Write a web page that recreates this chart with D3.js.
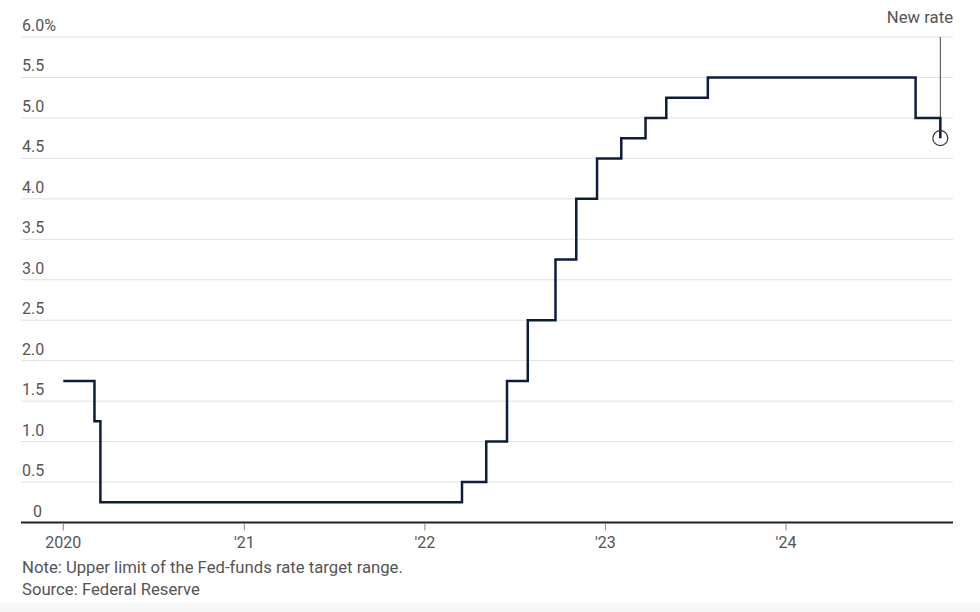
<!DOCTYPE html>
<html lang="en">
<head>
  <meta charset="UTF-8">
  <title>Fed-funds rate</title>
  <style>
    body {
      margin: 0;
      padding: 0;
      background: #fff;
      font-family: 'Roboto', sans-serif;
      overflow: hidden;
    }
    .grid line { stroke: #e0e0e0; stroke-width: 1px; }
    .tick-label { font-size: 16px; fill: #555; }
    .note { font-size: 16.7px; fill: #555; }
    .rate { fill: none; stroke: #0c1c3a; stroke-width: 2.5px; stroke-linejoin: miter; }
  </style>
</head>
<body>
  <div id="chart"></div>

  <script src="https://d3js.org/d3.v7.min.js"></script>
  <script>
    // Upper limit of the target range, effective dates of each change
    const dates = [
      '2020-01-01', '2020-03-04', '2020-03-16', '2022-03-17', '2022-05-05',
      '2022-06-16', '2022-07-28', '2022-09-22', '2022-11-03', '2022-12-15',
      '2023-02-02', '2023-03-23', '2023-05-04', '2023-07-27', '2024-09-19',
      '2024-11-08'
    ];
    const rates = [
      1.75, 1.25, 0.25, 0.50, 1.00,
      1.75, 2.50, 3.25, 4.00, 4.50,
      4.75, 5.00, 5.25, 5.50, 5.00,
      4.75
    ];
    const yTicks = [0, 0.5, 1, 1.5, 2, 2.5, 3, 3.5, 4, 4.5, 5, 5.5, 6];
    const yLabels = ['0', '0.5', '1.0', '1.5', '2.0', '2.5', '3.0', '3.5', '4.0', '4.5', '5.0', '5.5', '6.0%'];
    const xTicks = ['2020-01-01', '2021-01-01', '2022-01-01', '2023-01-01', '2024-01-01'];
    const xLabels = ['2020', "'21", "'22", "'23", "'24"];

    const W = 980, H = 612;
    const left = 21, right = 953;

    const parse = d3.utcParse('%Y-%m-%d');
    const data = dates.map((d, i) => ({ date: parse(d), rate: rates[i] }));

    const x = d3.scaleUtc()
      .domain([parse('2020-01-01'), parse('2024-01-01')])
      .range([63.3, 786]);
    const y = d3.scaleLinear().domain([0, 6]).range([522.5, 37]);

    const svg = d3.select('#chart').append('svg')
      .attr('width', W)
      .attr('height', H);

    svg.append('rect')
      .attr('x', 0).attr('y', 603).attr('width', W).attr('height', H - 603)
      .attr('fill', '#f7f7f7');

    // horizontal grid
    const grid = svg.append('g').attr('class', 'grid');
    grid.selectAll('line')
      .data(yTicks.filter(d => d > 0))
      .join('line')
      .attr('x1', left).attr('x2', right)
      .attr('y1', d => y(d)).attr('y2', d => y(d));

    svg.append('g').selectAll('text')
      .data(yTicks)
      .join('text')
      .attr('class', 'tick-label')
      .attr('x', d => d === 0 ? left + 12 : left + 1)
      .attr('y', d => y(d) - 6)
      .text((d, i) => yLabels[i]);

    // baseline
    svg.append('line')
      .attr('x1', left).attr('x2', right)
      .attr('y1', y(0)).attr('y2', y(0))
      .attr('stroke', '#222').attr('stroke-width', 2);

    // x ticks
    const xt = svg.append('g');
    xt.selectAll('line')
      .data(xTicks)
      .join('line')
      .attr('x1', d => x(parse(d))).attr('x2', d => x(parse(d)))
      .attr('y1', y(0) + 1).attr('y2', y(0) + 8)
      .attr('stroke', '#888').attr('stroke-width', 1);
    xt.selectAll('text')
      .data(xTicks)
      .join('text')
      .attr('class', 'tick-label')
      .attr('x', d => x(parse(d)))
      .attr('y', 548)
      .attr('text-anchor', 'middle')
      .text((d, i) => xLabels[i]);

    // annotation
    const last = data[data.length - 1];
    svg.append('line')
      .attr('x1', x(last.date)).attr('x2', x(last.date))
      .attr('y1', y(6)).attr('y2', y(last.rate))
      .attr('stroke', '#444').attr('stroke-width', 1);

    const line = d3.line()
      .x(d => x(d.date))
      .y(d => y(d.rate))
      .curve(d3.curveStepAfter);

    svg.append('path')
      .datum(data)
      .attr('class', 'rate')
      .attr('d', line);

    svg.append('circle')
      .attr('cx', x(last.date)).attr('cy', y(last.rate))
      .attr('r', 7.5)
      .attr('fill', 'none')
      .attr('stroke', '#333').attr('stroke-width', 1.2);

    svg.append('text')
      .attr('class', 'note')
      .attr('x', right).attr('y', 23)
      .attr('text-anchor', 'end')
      .text('New rate');

    svg.append('text').attr('class', 'note')
      .attr('x', left + 1).attr('y', 573)
      .text('Note: Upper limit of the Fed-funds rate target range.');
    svg.append('text').attr('class', 'note')
      .attr('x', left + 1).attr('y', 595)
      .text('Source: Federal Reserve');
  </script>
</body>
</html>
